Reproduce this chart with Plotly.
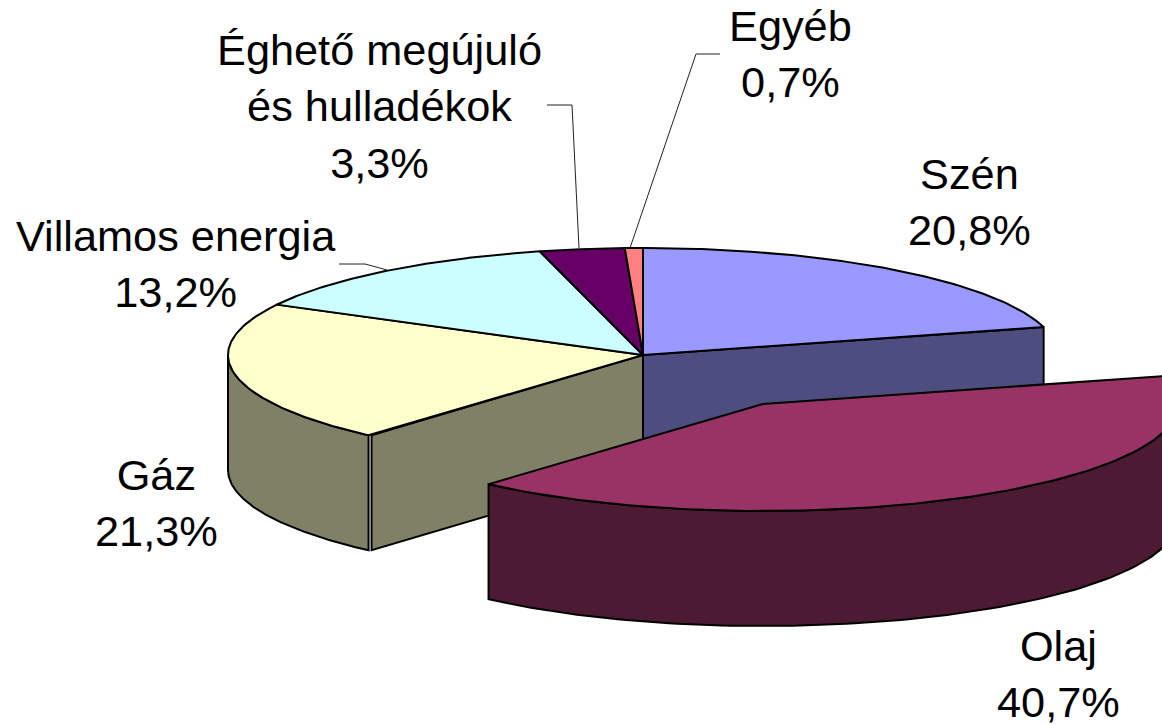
import numpy as np
import plotly.graph_objects as go

# shares in percent, clockwise from 12 o'clock
categories = ["Szén", "Olaj", "Gáz", "Villamos energia", "Éghető megújuló<br>és hulladékok", "Egyéb"]
shares = [20.8, 40.7, 21.3, 13.2, 3.3, 0.7]
top_colors = ["#9999FF", "#993366", "#FFFFCC", "#CCFFFF", "#660066", "#FF8080"]
side_colors = ["#4D4D80", "#4D1A33", "#808066", "#668080", "#330033", "#804040"]

# pie geometry in page pixels
W, H = 1162, 725
CX, CY = 643, 355
RX, RY = 415, 107
DEPTH = 115
OLAJ_SHIFT = (120, 49)
FONT = "Liberation Sans, Arial, sans-serif"

# slice boundaries in degrees, clockwise from the top
edges = np.cumsum([0] + shares) * 3.6


def rim(t0, t1, cx, cy):
    t = np.radians(np.linspace(t0, t1, 120))
    return cx + RX * np.sin(t), cy - RY * np.cos(t)


def add_poly(fig, x, y, color, name):
    fig.add_trace(go.Scatter(
        x=list(x) + [x[0]], y=list(y) + [y[0]],
        mode="lines", fill="toself", fillcolor=color,
        line=dict(color="black", width=2),
        name=name, showlegend=False, hoverinfo="name",
    ))


def add_top(fig, i, cx, cy):
    x, y = rim(edges[i], edges[i + 1], cx, cy)
    add_poly(fig, np.r_[cx, x], np.r_[cy, y], top_colors[i], categories[i])


def add_rim_side(fig, i, t0, t1, cx, cy):
    x, y = rim(t0, t1, cx, cy)
    add_poly(fig, np.r_[x, x[::-1]], np.r_[y, y[::-1] + DEPTH], side_colors[i], categories[i])


def add_cut(fig, i, t, cx, cy, nudge=0):
    x, y = rim(t, t, cx, cy)
    px = [cx, x[0] + nudge, x[0] + nudge, cx]
    py = [cy, y[0], y[0] + DEPTH, cy + DEPTH]
    add_poly(fig, px, py, side_colors[i], categories[i])


fig = go.Figure()

# sides of the pie body, back to front
add_rim_side(fig, 2, edges[2], 270, CX, CY)
add_cut(fig, 2, edges[2], CX, CY, nudge=3)
add_cut(fig, 0, edges[1], CX, CY)

for i in [0, 2, 3, 4, 5]:
    add_top(fig, i, CX, CY)

# pulled out slice goes on last
ox, oy = CX + OLAJ_SHIFT[0], CY + OLAJ_SHIFT[1]
add_rim_side(fig, 1, edges[1], edges[2], ox, oy)
add_top(fig, 1, ox, oy)

# leader lines
leaders = [
    ([547, 572, 579], [105, 105, 248]),
    ([720, 696, 630], [54, 54, 248]),
    ([339, 365, 387], [264, 264, 270]),
]
for lx, ly in leaders:
    fig.add_trace(go.Scatter(x=lx, y=ly, mode="lines", line=dict(color="#222222", width=1),
                             showlegend=False, hoverinfo="skip"))

label_pos = [(969, 202), (1058, 674), (156, 503), (176, 264), (379, 106), (790, 54)]
for name, val, (lx, ly) in zip(categories, shares, label_pos):
    fig.add_annotation(
        x=lx, y=ly, text=name + "<br>" + f"{val:.1f}%".replace(".", ","),
        showarrow=False, xanchor="center", yanchor="middle", align="center",
        font=dict(family=FONT, size=43.3, color="black"),
    )

fig.update_layout(
    width=W, height=H,
    margin=dict(l=0, r=0, t=0, b=0),
    paper_bgcolor="white",
    plot_bgcolor="white",
    showlegend=False,
    xaxis=dict(range=[0, W], visible=False, fixedrange=True),
    yaxis=dict(range=[H, 0], visible=False, fixedrange=True),
)

# the page's default body margin would push the figure 8px off
fig.write_html("out.html", config={"displayModeBar": False},
               post_script="document.body.style.margin = '0';")
